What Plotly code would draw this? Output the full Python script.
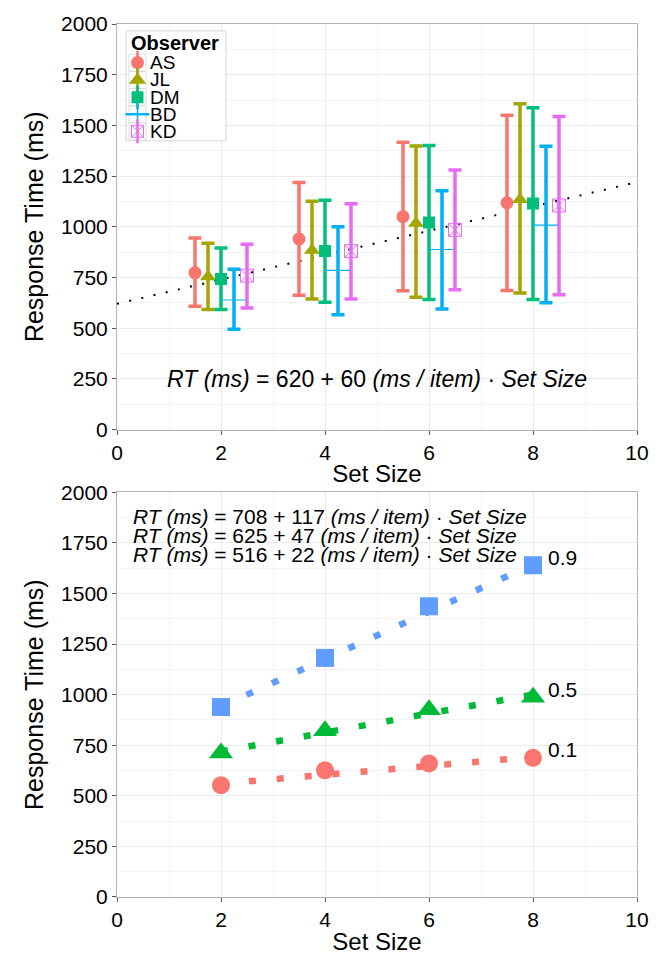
import plotly.graph_objects as go

# ---------------- data ----------------
set_sizes = [2, 4, 6, 8]
observers = ["AS", "JL", "DM", "BD", "KD"]

mean_AS = [773, 940, 1050, 1118]
mean_JL = [754, 884, 1018, 1134]
mean_DM = [743, 880, 1021, 1115]
mean_BD = [639, 785, 888, 1008]
mean_KD = [759, 880, 985, 1105]

low_AS = [608, 662, 684, 686]
low_JL = [592, 644, 652, 673]
low_DM = [592, 628, 641, 641]
low_BD = [495, 566, 595, 625]
low_KD = [600, 644, 689, 665]

up_AS = [945, 1218, 1417, 1550]
up_JL = [919, 1126, 1398, 1607]
up_DM = [895, 1131, 1401, 1587]
up_BD = [790, 1000, 1178, 1397]
up_KD = [914, 1113, 1280, 1544]

fit_top = (620, 60)  # intercept, slope

quantiles = ["0.9", "0.5", "0.1"]
q90 = [939, 1182, 1437, 1640]
q50 = [712, 822, 926, 988]
q10 = [553, 626, 660, 688]
fit_q = {"0.9": (708, 117), "0.5": (625, 47), "0.1": (516, 22)}

x_ticks = [0, 2, 4, 6, 8, 10]
y_ticks = [0, 250, 500, 750, 1000, 1250, 1500, 1750, 2000]

# ---------------- styles ----------------
FONT = "Liberation Sans, Arial, Helvetica, sans-serif"
obs_colors = {"AS": "#F8766D", "JL": "#A3A500", "DM": "#00BF7D", "BD": "#00B0F6", "KD": "#E76BF3"}
q_colors = {"0.9": "#619CFF", "0.5": "#00BA38", "0.1": "#F8766D"}
dodge = {"AS": -0.5, "JL": -0.25, "DM": 0.0, "BD": 0.25, "KD": 0.5}

means = {"AS": mean_AS, "JL": mean_JL, "DM": mean_DM, "BD": mean_BD, "KD": mean_KD}
lows = {"AS": low_AS, "JL": low_JL, "DM": low_DM, "BD": low_BD, "KD": low_KD}
ups = {"AS": up_AS, "JL": up_JL, "DM": up_DM, "BD": up_BD, "KD": up_KD}

markers = {
    "AS": dict(symbol="circle", size=13),
    "JL": dict(symbol="triangle-up", size=14),
    "DM": dict(symbol="square", size=12),
    "BD": dict(symbol="line-ew", size=19, line=dict(width=1.2, color=obs_colors["BD"])),
    "KD": dict(symbol="square-x-open", size=13, line=dict(width=1, color=obs_colors["KD"])),
}

fig = go.Figure()

# fitted line (top)
a, b = fit_top
fig.add_trace(go.Scatter(
    x=[0, 10], y=[a + b * 0, a + b * 10], mode="lines",
    line=dict(color="black", width=2, dash="2px,10.5px"),
    xaxis="x", yaxis="y", showlegend=False, hoverinfo="skip"))

for o in observers:
    m = means[o]
    mk = dict(color=obs_colors[o])
    mk.update(markers[o])
    fig.add_trace(go.Scatter(
        x=[s + dodge[o] for s in set_sizes], y=m, mode="markers",
        marker=mk,
        error_y=dict(type="data", symmetric=False,
                     array=[u - v for u, v in zip(ups[o], m)],
                     arrayminus=[v - l for v, l in zip(m, lows[o])],
                     color=obs_colors[o], thickness=3.5, width=6.5),
        xaxis="x", yaxis="y", showlegend=False, name=o))

# bottom panel
qvals = {"0.9": q90, "0.5": q50, "0.1": q10}
qsym = {"0.9": ("square", 18), "0.5": ("triangle-up", 21), "0.1": ("circle", 18)}
for q in quantiles:
    fig.add_trace(go.Scatter(
        x=set_sizes, y=qvals[q], mode="markers",
        marker=dict(symbol=qsym[q][0], size=qsym[q][1], color=q_colors[q]),
        xaxis="x2", yaxis="y2", showlegend=False, name=q))
for q in quantiles:
    a, b = fit_q[q]
    fig.add_trace(go.Scatter(
        x=[set_sizes[0], set_sizes[-1]],
        y=[a + b * set_sizes[0], a + b * set_sizes[-1]], mode="lines",
        line=dict(color=q_colors[q], width=6.5, dash="7px,21px"),
        xaxis="x2", yaxis="y2", showlegend=False, hoverinfo="skip"))

annotations = []
for q in quantiles:
    annotations.append(dict(
        x=set_sizes[-1], y=qvals[q][-1], xref="x2", yref="y2", text=q,
        showarrow=False, xanchor="left", yanchor="middle", xshift=13, yshift=8,
        font=dict(family=FONT, size=21, color="black")))

annotations.append(dict(
    x=5, y=250, xref="x", yref="y",
    text="<i>RT (ms)</i> = 620 + 60 <i>(ms / item)</i> · <i>Set Size</i>",
    showarrow=False, xanchor="center", yanchor="middle",
    font=dict(family=FONT, size=23, color="black")))

eq_y = [1883, 1786, 1694]
for q, yy in zip(quantiles, eq_y):
    a, b = fit_q[q]
    annotations.append(dict(
        x=0.26, y=yy, xref="x2", yref="y2",
        text=f"<i>RT (ms)</i> = {a} + {b} <i>(ms / item)</i> · <i>Set Size</i>",
        showarrow=False, xanchor="left", yanchor="middle",
        font=dict(family=FONT, size=21, color="black")))

# ---------------- manual legend (pixel-like overlay axes) ----------------
leg_rows = [58.3, 76, 93.5, 111, 128.3]
key_x = 137.5
fig.add_trace(go.Scatter(
    x=[126, 226, 226, 126, 126], y=[26, 26, 138, 138, 26], mode="lines",
    fill="toself", fillcolor="white", line=dict(color="#D6D6D6", width=1),
    xaxis="x3", yaxis="y3", showlegend=False, hoverinfo="skip"))
fig.add_trace(go.Scatter(
    x=[key_x] * 5, y=leg_rows, mode="markers",
    marker=dict(symbol="square-open", size=17, color="#DCDCDC", line=dict(width=1, color="#DCDCDC")),
    xaxis="x3", yaxis="y3", showlegend=False, hoverinfo="skip"))
for o, yy in zip(observers, leg_rows):
    c = obs_colors[o]
    fig.add_trace(go.Scatter(
        x=[key_x], y=[yy], mode="markers",
        marker=dict(symbol="line-ns", size=17, color=c,
                    line=dict(width=1.5 if o == "BD" else 2.5, color=c)),
        xaxis="x3", yaxis="y3", showlegend=False, hoverinfo="skip"))
    lm = {
        "AS": dict(symbol="circle", size=13, color=c),
        "JL": dict(symbol="triangle-up", size=15, color=c),
        "DM": dict(symbol="square", size=12, color=c),
        "BD": dict(symbol="line-ew", size=17, color=c, line=dict(width=2.5, color=c)),
        "KD": dict(symbol="square-x-open", size=12, color=c, line=dict(width=1, color=c)),
    }[o]
    fig.add_trace(go.Scatter(
        x=[key_x], y=[yy], mode="markers", marker=lm,
        xaxis="x3", yaxis="y3", showlegend=False, hoverinfo="skip"))
    annotations.append(dict(
        x=148, y=yy, xref="x3", yref="y3", text=o, showarrow=False,
        xanchor="left", yanchor="middle",
        font=dict(family=FONT, size=19, color="black")))
annotations.append(dict(
    x=129, y=38.5, xref="x3", yref="y3", text="<b>Observer</b>", showarrow=False,
    xanchor="left", yanchor="middle",
    font=dict(family=FONT, size=20, color="black")))

# ---------------- layout ----------------
def xax(domain_anchor):
    return dict(
        range=[0, 10], tickvals=x_ticks, ticktext=[str(t) for t in x_ticks],
        showgrid=True, gridcolor="#EBEBEB", gridwidth=1,
        minor=dict(dtick=1, tick0=0, showgrid=True, gridcolor="#F3F3F3", gridwidth=1),
        showline=True, linecolor="#B3B3B3", linewidth=1, mirror=True,
        ticks="outside", ticklen=4, tickcolor="#555555", tickwidth=1,
        tickfont=dict(family=FONT, size=21, color="black"),
        title=dict(text="Set Size", font=dict(family=FONT, size=24, color="black"), standoff=2),
        zeroline=False, anchor=domain_anchor)


def yax(domain, anchor):
    return dict(
        range=[0, 2000], domain=domain, tickvals=y_ticks, ticktext=[str(t) for t in y_ticks],
        showgrid=True, gridcolor="#EBEBEB", gridwidth=1,
        minor=dict(dtick=125, tick0=0, showgrid=True, gridcolor="#F3F3F3", gridwidth=1),
        showline=True, linecolor="#B3B3B3", linewidth=1, mirror=True,
        ticks="outside", ticklen=4, tickcolor="#555555", tickwidth=1,
        tickfont=dict(family=FONT, size=21, color="black"),
        title=dict(text="Response Time (ms)", font=dict(family=FONT, size=25, color="black"), standoff=10),
        zeroline=False, anchor=anchor)


W, H = 664, 962
L, R, T, B = 117, 27, 19, 54
plot_h = H - T - B
top_dom = [(908 - 432) / plot_h, 1.0]
bot_dom = [0.0, (908 - 496) / plot_h]

fig.update_layout(
    width=W, height=H, autosize=False,
    margin=dict(l=L, r=R, t=T, b=B),
    paper_bgcolor="white", plot_bgcolor="white",
    font=dict(family=FONT, color="black"),
    xaxis=xax("y"), yaxis=yax(top_dom, "x"),
    xaxis2=xax("y2"), yaxis2=yax(bot_dom, "x2"),
    xaxis3=dict(overlaying="x", anchor="y3", range=[117, 637], visible=False),
    yaxis3=dict(overlaying="y", anchor="x3", range=[432, 19], visible=False),
    annotations=annotations,
    showlegend=False,
)

fig.write_html("out.html")
